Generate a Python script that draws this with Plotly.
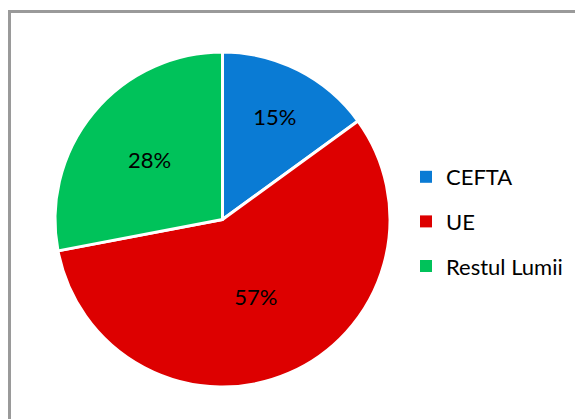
import plotly.graph_objects as go

labels = ["CEFTA", "UE", "Restul Lumii"]
values = [15, 57, 28]
colors = ["#0A7BD4", "#DD0000", "#00C25A"]

W, H = 583, 419
OX, OY = 8, 8  # page body offset


def px(x):
    return (x - OX) / W


def py(y):
    return 1 - (y - OY) / H


fig = go.Figure()
fig.add_trace(go.Pie(
    labels=labels, values=values, sort=False, direction="clockwise", rotation=0,
    marker=dict(colors=colors, line=dict(color="white", width=3)),
    textinfo="percent", textposition="inside", insidetextorientation="horizontal",
    textfont=dict(family="Lato", size=22, color="black"),
    showlegend=False, hoverinfo="label+percent",
    domain=dict(x=[px(55), px(390)], y=[py(387), py(52)]),
))
for lab, col in zip(labels, colors):
    fig.add_trace(go.Scatter(
        x=[None], y=[None], mode="markers", name=lab, legendgroup=lab,
        marker=dict(symbol="square", size=12, color=col),
    ))

fig.update_layout(
    width=W, height=H, margin=dict(l=0, r=0, t=0, b=0),
    paper_bgcolor="white", plot_bgcolor="white",
    xaxis=dict(visible=False), yaxis=dict(visible=False),
    legend=dict(x=px(406), y=py(156), xanchor="left", yanchor="top",
                font=dict(family="Lato", size=22, color="black"),
                tracegroupgap=13, itemwidth=30, bgcolor="rgba(0,0,0,0)"),
    shapes=[dict(type="rect", xref="paper", yref="paper",
                 x0=px(9.5), x1=1.2, y0=-0.2, y1=py(11.5),
                 line=dict(color="#9A9A9A", width=3))],
)

fig.write_html("out.html")
